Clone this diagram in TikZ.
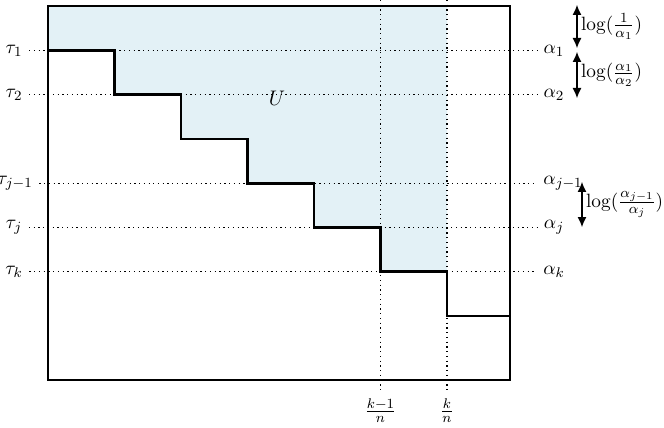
\documentclass[tikz,border=0pt,11pt]{standalone}
\usepackage{amsmath}
\usetikzlibrary{arrows.meta}
\definecolor{ufill}{RGB}{227,241,246}
\tikzset{
  stair/.style={line width=1.5pt},
  grid line/.style={dotted,line width=0.7pt},
  gap arrow/.style={{Latex[length=2mm,width=1.8mm]}-{Latex[length=2mm,width=1.8mm]},semithick},
  gap label/.style={right=1pt,inner xsep=1pt,inner ysep=0pt},
}

\begin{document}
\begin{tikzpicture}
\useasboundingbox (-0.96,-0.94) rectangle (12.32,7.6);

% region U
\fill[ufill] (0,7.48) -- (7.98,7.48) -- (7.98,2.165) -- (6.65,2.165) |- (5.32,3.05) |- (3.99,3.935)
  |- (2.66,4.82) |- (1.33,5.705) |- (0,6.59) -- cycle;
\node[font=\large] (U) at (4.58,5.64) {$U$};

% levels tau / alpha
\node (t1) at (-0.68,6.59) {$\tau_1$};
\node (t2) at (-0.68,5.705) {$\tau_2$};
\node (t3) at (-0.66,3.935) {$\tau_{j-1}$};
\node (t4) at (-0.68,3.05) {$\tau_j$};
\node (t5) at (-0.68,2.165) {$\tau_k$};
\node (a1) at (10.12,6.59) {$\alpha_1$};
\node (a2) at (10.12,5.705) {$\alpha_2$};
\node (a3) at (10.3,3.935) {$\alpha_{j-1}$};
\node (a4) at (10.12,3.05) {$\alpha_j$};
\node (a5) at (10.12,2.165) {$\alpha_k$};
\foreach \i in {1,...,5}
  \draw[grid line] (t\i.east) -- (a\i.west);

% columns (k-1)/n and k/n
\coordinate (c1) at (6.65,7.6);
\coordinate (c2) at (7.98,7.6);
\node (kmo) at (6.65,-0.62) {$\frac{k-1}{n}$};
\node (kn) at (7.98,-0.62) {$\frac{k}{n}$};
\draw[grid line] (c1) -- (kmo);
\draw[grid line] (c2) -- (kn);

% box and staircase
\draw[stair] (0,0) rectangle (9.24,7.48);
\draw[stair] (0,6.59) -| (1.33,5.705) -| (2.66,4.82) -| (3.99,3.935) -| (5.32,3.05)
  -| (6.65,2.165) -| (7.98,1.28) -- (9.24,1.28);

% log gaps
\coordinate (g0) at (10.58,7.5);
\coordinate (g1) at (10.58,6.64);
\coordinate (g2) at (10.58,6.56);
\coordinate (g3) at (10.58,5.64);
\coordinate (g4) at (10.68,3.96);
\coordinate (g5) at (10.68,3.06);
\draw[gap arrow] (g0) -- (g1) node[midway,gap label] {$\log(\frac{1}{\alpha_1})$};
\draw[gap arrow] (g2) -- (g3) node[midway,gap label] {$\log(\frac{\alpha_1}{\alpha_2})$};
\draw[gap arrow] (g4) -- (g5) node[midway,gap label] {$\log(\frac{\alpha_{j-1}}{\alpha_j})$};

\end{tikzpicture}
\end{document}
